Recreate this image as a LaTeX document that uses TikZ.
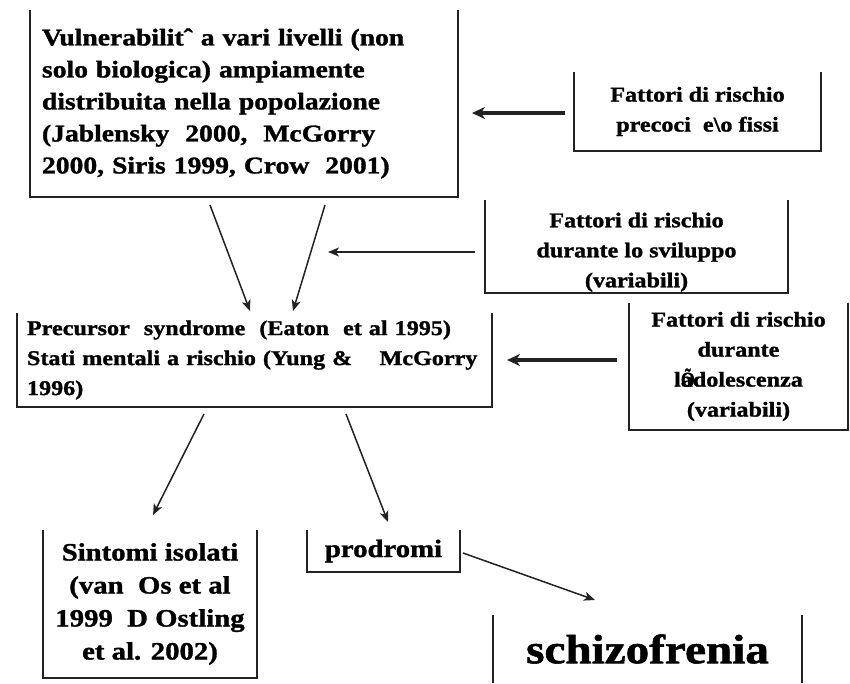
\documentclass[tikz,border=0pt]{standalone}
\usepackage{fontspec}
\setmainfont{Liberation Serif}[FakeStretch=1.15, BoldFeatures={FakeBold=1.3}]
\usetikzlibrary{arrows.meta,calc}
\definecolor{cline}{HTML}{222222}

\begin{document}
\begin{tikzpicture}[
  x=1pt, y=-1pt,
  lbox/.style={align=left, inner xsep=12pt, inner ysep=0pt, outer sep=0pt},
  cbox/.style={align=center, inner sep=0pt, outer sep=0pt},
  vfont/.style={font=\fontsize{24}{32}\selectfont\bfseries},
  ffont/.style={font=\fontsize{21}{30}\selectfont\bfseries},
  pfont/.style={font=\fontsize{21}{30}\selectfont\bfseries},
  sfont/.style={font=\fontsize{25}{33}\selectfont\bfseries},
  wall/.style={draw=cline, line width=1.8pt},
  flow/.style={-{Stealth[length=11pt, width=9pt, inset=3pt]}, draw=cline, line width=1.5pt},
  bigflow/.style={-{Stealth[length=13pt, width=12pt]}, draw=cline, line width=4.5pt},
]
\useasboundingbox (0,0) rectangle (850,683);

% =================== top: vulnerability ===================
\node[lbox, vfont, text width=404pt, minimum height=187pt] (vuln) at (244,103.5)
  {Vulnerabilit\char"02C6\ a vari livelli (non\\ solo biologica) ampiamente\\
   distribuita nella popolazione\\ (Jablensky \ 2000, \ McGorry\\ 2000, Siris 1999, Crow \ 2001)};
\node[cbox, ffont, minimum width=247pt, minimum height=79pt] (prec) at (697.5,111.5)
  {Fattori di rischio\\ precoci \ e\textbackslash o fissi};
\node[cbox, ffont, minimum width=303pt, minimum height=93pt] (svil) at (636.5,246.5)
  {\rule{0pt}{26pt}Fattori di rischio\\ durante lo sviluppo\\ (variabili)};

% =================== middle: precursor ===================
\node[lbox, pfont, inner xsep=10pt, text width=455pt, minimum height=94pt] (precur) at (254.5,360)
  {Precursor \ syndrome \ (Eaton \ et al 1995)\\
   \mbox{Stati mentali a rischio (Yung \&\hspace{1.3em}McGorry}\\ 1996)};
\node[cbox, ffont, minimum width=219pt, minimum height=127pt] (adol) at (738.5,366.5)
  {Fattori di rischio\\ durante\\ l\rlap{\scalebox{0.75}[1]{Õ}}adolescenza\\ (variabili)};

% =================== bottom: outcomes ===================
\node[cbox, sfont, minimum width=214pt, minimum height=148pt] (sint) at (150,604)
  {Sintomi isolati\\ (van \ Os et al\\ 1999 \ D Ostling\\ et al. 2002)};
\node[cbox, sfont, minimum width=153pt, minimum height=42pt] (prod) at (383.5,551) {prodromi};
\node[cbox, font=\fontsize{41}{48}\selectfont\bfseries, minimum width=309pt, minimum height=68pt] (schizo) at (647.5,649)
  {schizofrenia};

% open boxes
\foreach \n in {vuln,prec,svil,precur,adol,sint,prod}
  \draw[wall] (\n.north west) -- (\n.south west) -- (\n.south east) -- (\n.north east);
\draw[wall] (schizo.north west) -- (schizo.south west) (schizo.north east) -- (schizo.south east);

% arrows
\coordinate (svtip) at (328,252);
\draw[flow] ($(vuln.south west)+(180,8)$) -- ($(precur.north west)+(233,-2)$);
\draw[flow] ($(vuln.south west)+(295,8)$) -- ($(precur.north west)+(276,-2)$);
\draw[bigflow] ($(prec.west)+(-9,1.5)$) -- ($(vuln.east |- prec.west)+(14,1.5)$);
\draw[flow] ($(svil.west)+(-10,5.5)$) -- (svtip);
\draw[bigflow] ($(adol.west)+(-12,-6.5)$) -- ($(precur.east)+(15,0)$);
\draw[flow] ($(precur.south west)+(187,7)$) -- ($(sint.north west)+(110,-15)$);
\draw[flow] ($(precur.south west)+(329,7)$) -- ($(prod.north west)+(81,-8)$);
\draw[flow] ($(prod.east)+(3,2)$) -- ($(schizo.north west)+(102,-15)$);
\end{tikzpicture}
\end{document}
